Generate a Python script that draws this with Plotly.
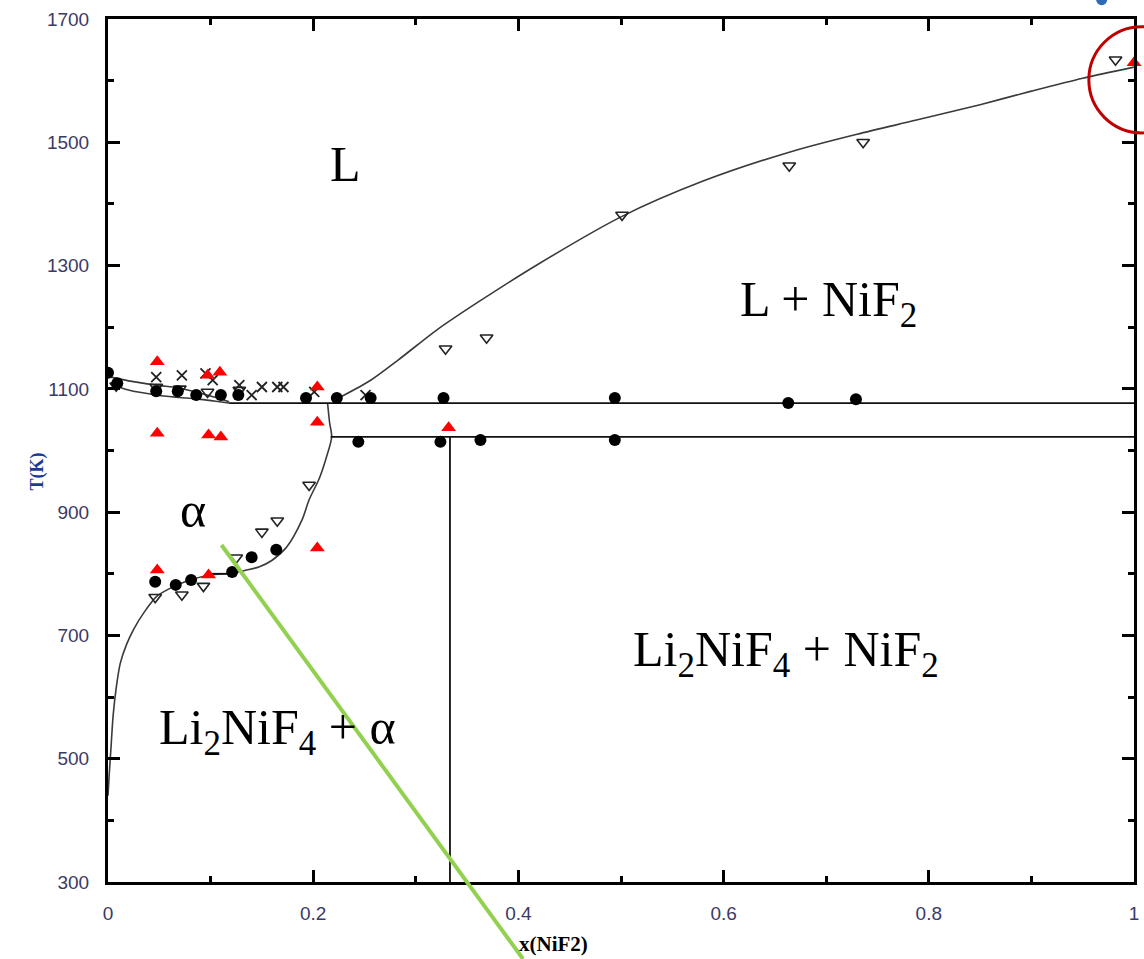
import plotly.graph_objects as go

# ---------------- data (x = mole fraction NiF2, T in K) ----------------
# phase-boundary curves
liqA_x = [0.003, 0.02, 0.047, 0.07, 0.09, 0.105, 0.118]
liqA_T = [1119, 1113, 1106, 1101, 1093, 1086, 1079]
solA_x = [0.003, 0.02, 0.047, 0.07, 0.09, 0.105, 0.118]
solA_T = [1108, 1098, 1090, 1086, 1083, 1080, 1077]

eut_x = [0.118, 1.0]
eut_T = [1077, 1077]
per_x = [0.217, 1.0]
per_T = [1022, 1022]
vert_x = [0.3333, 0.3333]
vert_T = [1022, 300]
seg_x = [0.101, 0.121]
seg_T = [800, 800]

liqN_x = [0.228, 0.256, 0.283, 0.32, 0.361, 0.42, 0.5, 0.58, 0.664, 0.73, 0.788, 0.85, 0.9, 0.95, 1.0]
liqN_T = [1088, 1114, 1147, 1195, 1241, 1303, 1379, 1437, 1484, 1513, 1536, 1561, 1583, 1604, 1622]

solv_x = [0.214, 0.216, 0.218, 0.213, 0.206, 0.196, 0.189, 0.174, 0.16, 0.147, 0.135, 0.121,
          0.1, 0.08, 0.065, 0.048, 0.035, 0.025, 0.018, 0.012, 0.008, 0.005, 0.003, 0.001, 0.0]
solv_T = [1077, 1045, 1022, 990, 955, 920, 887, 843, 822, 811, 806, 801,
          798, 790, 780, 764, 737, 710, 685, 655, 615, 570, 520, 470, 440]

# experimental points
circ_x = [0.0, 0.009, 0.047, 0.068, 0.086, 0.11, 0.127, 0.193, 0.223, 0.256, 0.327, 0.494, 0.663, 0.729,
          0.244, 0.324, 0.363, 0.494, 0.046, 0.066, 0.081, 0.121, 0.14, 0.164]
circ_T = [1126, 1109, 1096, 1096, 1090, 1090, 1090, 1085, 1085, 1085, 1085, 1085, 1077, 1083,
          1014, 1014, 1017, 1017, 787, 782, 790, 803, 827, 839]

tri_x = [0.008, 0.047, 0.07, 0.097, 0.128, 0.329, 0.369, 0.501, 0.664, 0.736, 0.982,
         0.046, 0.072, 0.093, 0.125, 0.15, 0.165, 0.196]
tri_T = [1105, 1103, 1100, 1095, 1098, 1165, 1183, 1382, 1462, 1500, 1634,
         762, 766, 780, 826, 868, 886, 944]

red_x = [0.048, 0.097, 0.109, 0.204, 0.048, 0.098, 0.11, 0.204, 0.332, 0.048, 0.098, 0.204, 1.0]
red_T = [1144, 1122, 1127, 1103, 1028, 1025, 1022, 1046, 1037, 806, 798, 842, 1629]

crs_x = [0.047, 0.072, 0.095, 0.102, 0.128, 0.14, 0.15, 0.165, 0.171, 0.201, 0.251]
crs_T = [1119, 1122, 1125, 1114, 1106, 1090, 1103, 1103, 1103, 1095, 1090]

y_ticks = [300, 500, 700, 900, 1100, 1300, 1500, 1700]
x_ticks = [0, 0.2, 0.4, 0.6, 0.8, 1.0]
x_labels = ["0", "0.2", "0.4", "0.6", "0.8", "1"]

# ---------------- figure ----------------
fig = go.Figure()
curve = dict(color="#3a3a3a", width=1.6)
straight = dict(color="#111111", width=1.8)

for xs, ts, ln, shp in [
    (liqA_x, liqA_T, curve, "spline"),
    (solA_x, solA_T, curve, "spline"),
    (liqN_x, liqN_T, curve, "spline"),
    (solv_x, solv_T, curve, "spline"),
    (eut_x, eut_T, straight, "linear"),
    (per_x, per_T, straight, "linear"),
    (vert_x, vert_T, straight, "linear"),
    (seg_x, seg_T, straight, "linear"),
]:
    fig.add_trace(go.Scatter(x=xs, y=ts, mode="lines",
                             line=dict(shape=shp, smoothing=0.8 if shp == "spline" else None, **ln),
                             hoverinfo="skip", cliponaxis=True))

fig.add_trace(go.Scatter(x=crs_x, y=crs_T, mode="markers",
                         marker=dict(symbol="x-thin", size=10, line=dict(color="#222", width=1.8))))
fig.add_trace(go.Scatter(x=tri_x, y=tri_T, mode="markers",
                         marker=dict(symbol="triangle-down-open", size=11, color="#222",
                                     line=dict(width=1.6))))
fig.add_trace(go.Scatter(x=circ_x, y=circ_T, mode="markers",
                         marker=dict(symbol="circle", size=12, color="#000")))
fig.add_trace(go.Scatter(x=red_x, y=red_T, mode="markers", cliponaxis=False,
                         marker=dict(symbol="triangle-up", size=13, color="#ff0000")))

tickfont = dict(family="Liberation Sans, Arial, sans-serif", size=19, color="#3a3a66")
fig.update_xaxes(range=[0, 1], tickvals=x_ticks, ticktext=x_labels, ticks="inside",
                 ticklen=12, tickwidth=3, tickcolor="#000", showline=True, linewidth=3,
                 linecolor="#000", mirror="ticks", showgrid=False, zeroline=False,
                 tickfont=tickfont, ticklabelstandoff=12,
                 minor=dict(tickvals=[0.1, 0.3, 0.5, 0.7, 0.9], ticks="inside", ticklen=6,
                            tickwidth=3, tickcolor="#000", showgrid=False))
fig.update_yaxes(range=[300, 1700], tickvals=y_ticks, ticks="inside",
                 ticklen=12, tickwidth=3, tickcolor="#000", showline=True, linewidth=3,
                 linecolor="#000", mirror="ticks", showgrid=False, zeroline=False,
                 tickfont=tickfont, ticklabelstandoff=12,
                 minor=dict(tickvals=[400, 600, 800, 1000, 1200, 1400, 1600], ticks="inside",
                            ticklen=6, tickwidth=3, tickcolor="#000", showgrid=False))

serif = "Liberation Serif, Times New Roman, serif"
labels = [
    ("L", 0.231, 1465),
    ("L + NiF<sub>2</sub>", 0.702, 1240),
    ("α", 0.083, 903),
    ("Li<sub>2</sub>NiF<sub>4</sub> + NiF<sub>2</sub>", 0.661, 672),
    ("Li<sub>2</sub>NiF<sub>4</sub> + α", 0.165, 545),
]
for txt, lx, ly in labels:
    fig.add_annotation(x=lx, y=ly, xref="x", yref="y", text=txt, showarrow=False,
                       font=dict(family=serif, size=50, color="#000"),
                       xanchor="center", yanchor="middle")

fig.add_annotation(x=-0.081, y=0.476, xref="paper", yref="paper", text="<b>T(K)</b>",
                   textangle=-90, showarrow=False,
                   font=dict(family=serif, size=18, color="#1f3a93"))
fig.add_annotation(x=0.4345, y=-0.088, xref="paper", yref="paper", text="<b>x(NiF2)</b>",
                   showarrow=False, font=dict(family=serif, size=21, color="#000"))

# highlight overlays
fig.add_shape(type="line", xref="paper", yref="paper", x0=0.1106, y0=0.3905, x1=0.4045,
              y1=-0.0892, line=dict(color="#92D050", width=4))
fig.add_shape(type="circle", xref="paper", yref="paper", x0=0.956, x1=1.059, y0=0.868,
              y1=0.991, line=dict(color="#C00000", width=3))
fig.add_shape(type="circle", xref="paper", yref="paper", x0=0.963, x1=0.974, y0=1.016,
              y1=1.03, fillcolor="#2e6db4", line=dict(width=0))

fig.update_layout(width=1144, height=959, autosize=False, showlegend=False,
                  plot_bgcolor="white", paper_bgcolor="white",
                  margin=dict(l=108, r=5, t=19, b=77))

fig.write_html("out.html")
